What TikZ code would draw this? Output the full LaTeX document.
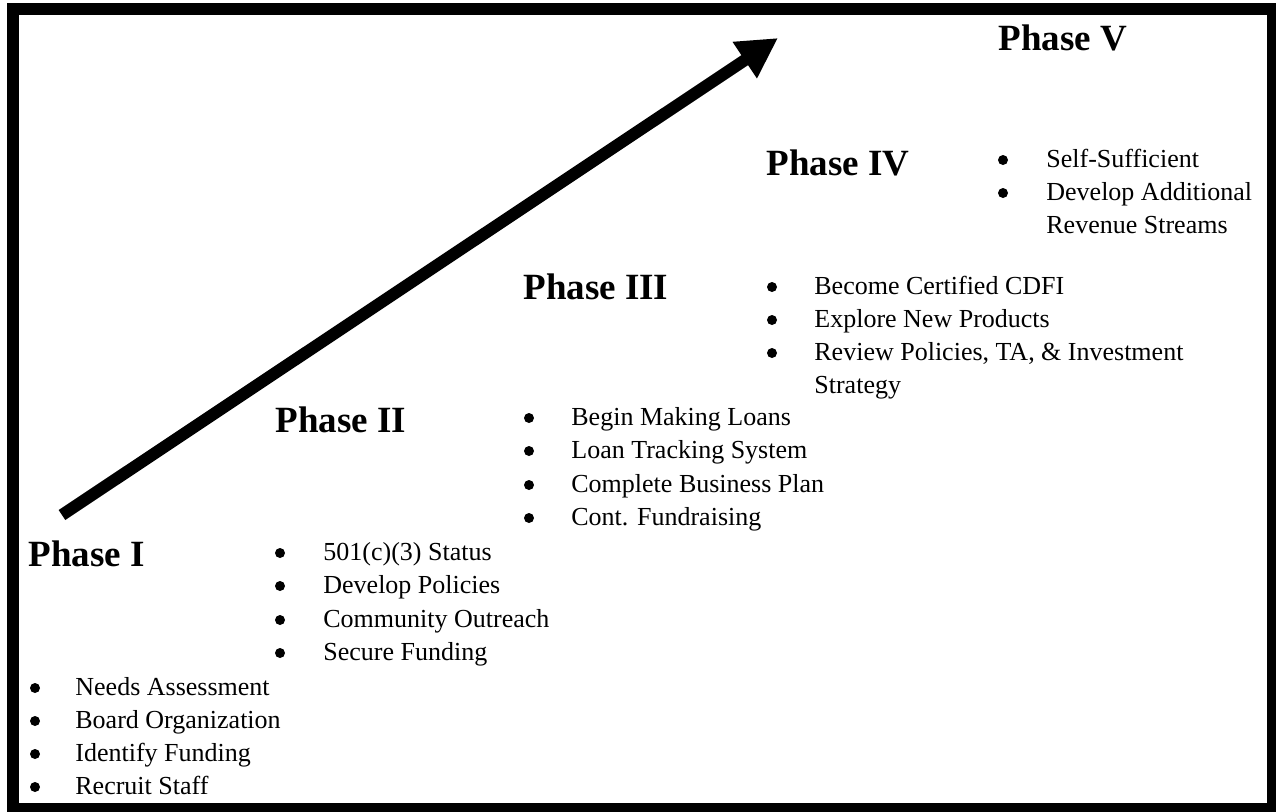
\documentclass[tikz,border=0pt]{standalone}
\usepackage{fontspec}
\setmainfont{Liberation Serif}
\usetikzlibrary{arrows.meta}
\tikzset{
  phase/.style={anchor=base west,inner sep=0pt,font=\fontsize{18.5}{22}\selectfont\bfseries},
  item/.style={anchor=base west,inner sep=0pt,font=\fontsize{13}{16.5}\selectfont},
}
\begin{document}
\begin{tikzpicture}[x=0.5pt,y=-0.5pt]
\useasboundingbox (0,0) rectangle (1276,811);
\draw[line width=6pt] (13,9) rectangle (1273,809);
\coordinate (tail) at (62,515);
\coordinate (tip) at (778,38);
\draw[line width=6pt,-{Triangle[length=20pt,width=20.5pt]}] (tail)--(tip);

% phase headings
\node[phase] (ph1) at (28,566) {Phase I};
\node[phase] (ph2) at (275,432) {Phase II};
\node[phase] (ph3) at (523,299) {Phase III};
\node[phase] (ph4) at (766,175) {Phase IV};
\node[phase] (ph5) at (998,50) {Phase V};

% bullet lists
\foreach \y/\t [count=\i] in {688/{Needs Assessment},721/{Board Organization},754/{Identify Funding},787/{Recruit Staff}}{
  \fill (35,\y) circle (2.5pt);
  \node[item] (la-\i) at (75,\y+7) {\t};
}
\foreach \y/\t [count=\i] in {553/{501(c)(3) Status},586/{Develop Policies},620/{Community Outreach},653/{Secure Funding}}{
  \fill (280,\y) circle (2.5pt);
  \node[item] (lb-\i) at (323,\y+7) {\t};
}
\foreach \y/\t [count=\i] in {418/{Begin Making Loans},451/{Loan Tracking System},485/{Complete Business Plan},518/{Cont. Fundraising}}{
  \fill (529,\y) circle (2.5pt);
  \node[item] (lc-\i) at (571,\y+7) {\t};
}
\foreach \y/\t [count=\i] in {287/{Become Certified CDFI},320/{Explore New Products},353/{Review Policies, TA, \& Investment}}{
  \fill (772,\y) circle (2.5pt);
  \node[item] (ld-\i) at (814,\y+7) {\t};
}
\node[item] (ld-4) at (814,393) {Strategy};
\foreach \y/\t [count=\i] in {160/{Self-Sufficient},193/{Develop Additional}}{
  \fill (1003,\y) circle (2.5pt);
  \node[item] (le-\i) at (1046,\y+7) {\t};
}
\node[item] (le-3) at (1046,233) {Revenue Streams};
\end{tikzpicture}
\end{document}
